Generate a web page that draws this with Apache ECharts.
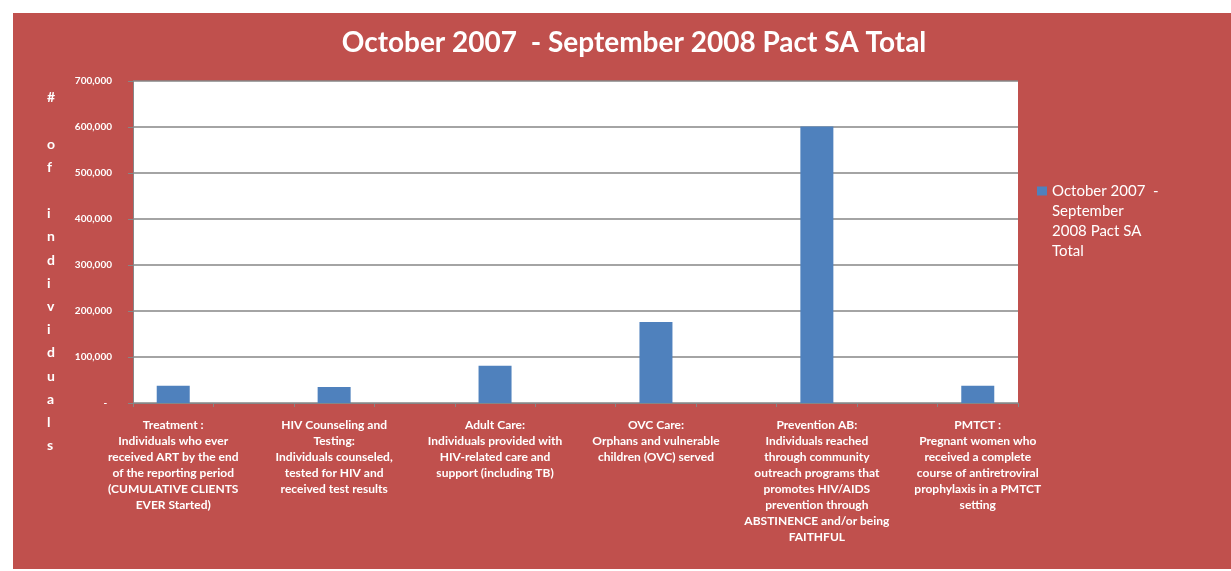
<!DOCTYPE html>
<html>
<head>
<meta charset="utf-8">
<script src="https://cdn.jsdelivr.net/npm/echarts@6/dist/echarts.min.js"></script>
<style>
  html, body { margin: 0; padding: 0; background: #ffffff; }
  #chart { position: absolute; left: 13px; top: 13px; width: 1218px; height: 556px; }
</style>
</head>
<body>
<div id="chart"></div>
<script>
// ---- data ----
const chartTitle = 'October 2007  - September 2008 Pact SA Total';
const seriesName = 'October 2007  - September 2008 Pact SA Total';
const legendLines = ['October 2007  -', 'September', '2008 Pact SA', 'Total'];
const yAxisTitle = '# of individuals';
const categories = [
  'Treatment :\nIndividuals who ever\nreceived ART by the end\nof the reporting period\n(CUMULATIVE CLIENTS\nEVER Started)',
  'HIV Counseling and\nTesting:\nIndividuals counseled,\ntested for HIV and\nreceived test results',
  'Adult Care:\nIndividuals provided with\nHIV-related care and\nsupport (including TB)',
  'OVC Care:\nOrphans and vulnerable\nchildren (OVC) served',
  'Prevention AB:\nIndividuals reached\nthrough community\noutreach programs that\npromotes HIV/AIDS\nprevention through\nABSTINENCE and/or being\nFAITHFUL',
  'PMTCT :\nPregnant women who\nreceived a complete\ncourse of antiretroviral\nprophylaxis in a PMTCT\nsetting'
];
const values = [37500, 35000, 81000, 176000, 601000, 37500];

// The original chart places an empty category between each labelled one.
const axisCats = [];
const axisVals = [];
categories.forEach(function (c, i) {
  if (i > 0) { axisCats.push(''); axisVals.push(null); }
  axisCats.push(c);
  axisVals.push(values[i]);
});

const verticalTitle = yAxisTitle.split('').map(function (ch) { return ch === ' ' ? '' : ch; }).join('\n');

const chart = echarts.init(document.getElementById('chart'));
const FONT = 'Lato, "Liberation Sans", sans-serif';
chart.setOption({
  backgroundColor: '#C0504D',
  animation: false,
  title: {
    text: chartTitle,
    left: 616,
    textAlign: 'center',
    top: 11,
    textStyle: { color: '#ffffff', fontFamily: FONT, fontWeight: 'bold', fontSize: 28 }
  },
  legend: {
    left: 1019,
    top: 103,
    orient: 'vertical',
    icon: 'rect',
    itemWidth: 10,
    itemHeight: 9,
    itemGap: 6,
    // blank lines above keep the marker level with the first line of text
    formatter: function () { return '\n\n\n' + legendLines.join('\n'); },
    textStyle: { color: '#ffffff', fontFamily: FONT, fontSize: 15, lineHeight: 20 }
  },
  graphic: [{
    type: 'text',
    left: 34,
    top: 73,
    style: {
      text: verticalTitle,
      fill: '#ffffff',
      font: 'bold 14px ' + FONT,
      lineHeight: 23.2,
      align: 'center'
    }
  }],
  grid: {
    left: 120, top: 68, width: 885, height: 322,
    show: true, backgroundColor: '#ffffff', borderWidth: 0,
    containLabel: false
  },
  xAxis: {
    type: 'category',
    data: axisCats,
    axisLine: { lineStyle: { color: '#868686', width: 1 } },
    axisTick: { show: true, interval: 0, length: 4, lineStyle: { color: '#868686' } },
    axisLabel: {
      interval: 0, margin: 14, color: '#ffffff', fontFamily: FONT, fontWeight: 'bold',
      fontSize: 12, lineHeight: 16, align: 'center', verticalAlign: 'top'
    },
    splitLine: { show: false }
  },
  yAxis: {
    type: 'value',
    min: 0, max: 700000, interval: 100000,
    axisLine: { show: true, lineStyle: { color: '#868686', width: 1 } },
    axisTick: { show: true, length: 5, lineStyle: { color: '#868686' } },
    axisLabel: {
      margin: 21, color: '#ffffff', fontFamily: FONT, fontWeight: 'bold', fontSize: 10,
      formatter: function (v) { return v === 0 ? '-  ' : v.toLocaleString('en-US'); }
    },
    splitLine: { show: true, lineStyle: { color: '#868686', width: 1.5 } }
  },
  series: [{
    name: seriesName,
    type: 'bar',
    data: axisVals,
    barWidth: 33,
    itemStyle: { color: '#4F81BD' }
  }]
});
</script>
</body>
</html>
